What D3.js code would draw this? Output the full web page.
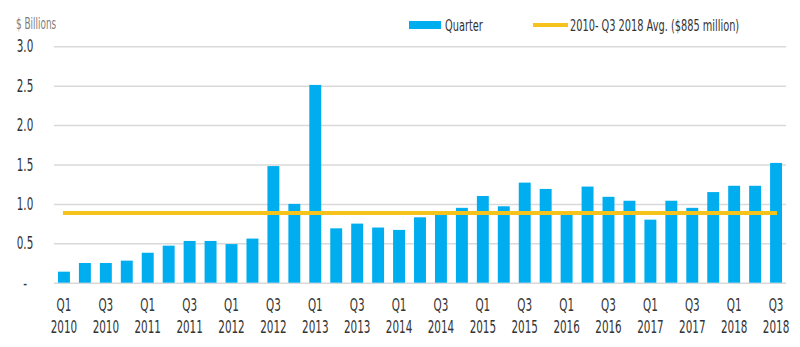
<!DOCTYPE html>
<html>
<head>
<meta charset="utf-8">
<script src="https://cdn.jsdelivr.net/npm/d3@7"></script>
<style>
  body { margin: 0; background: #fff; }
  svg text { font-family: "DejaVu Sans Condensed", "DejaVu Sans", sans-serif; font-stretch: condensed; }
</style>
</head>
<body>
<svg id="chart" width="800" height="347"></svg>
<script>
const w = 800;
const h = 347;

// quarterly totals, $ billions
const quarters = ["Q1","Q2","Q3","Q4"];
const years = [2010, 2011, 2012, 2013, 2014, 2015, 2016, 2017, 2018];
const values = [
  0.14, 0.25, 0.25, 0.28,
  0.38, 0.47, 0.53, 0.53,
  0.49, 0.56, 1.48, 1.00,
  2.51, 0.69, 0.75, 0.70,
  0.67, 0.83, 0.91, 0.95,
  1.10, 0.97, 1.27, 1.19,
  0.87, 1.22, 1.09, 1.04,
  0.80, 1.04, 0.95, 1.15,
  1.23, 1.23, 1.52
];
const average = 0.885;
const yTicks = [0, 0.5, 1.0, 1.5, 2.0, 2.5, 3.0];

const labels = values.map((v, i) => quarters[i % 4] + " " + years[Math.floor(i / 4)]);

const blue = "#00aeef";
const gold = "#f5c31c";
const grid = "#d9d9d9";
const squeeze = 0.66; // narrow lettering

const svg = d3.select("#chart");

const plotLeft = 54, plotRight = 786, plotTop = 46.3, plotBottom = 282.7;

// draws a horizontally squeezed label anchored at (tx, ty)
function narrowText(parent, tx, ty, size, color, str, anchor) {
    return parent.append("text")
        .attr("transform", `translate(${tx},${ty}) scale(${squeeze},1)`)
        .attr("text-anchor", anchor || "start")
        .attr("fill", color)
        .style("font-size", size + "px")
        .text(str);
}

const x = d3.scaleBand()
    .domain(labels)
    .range([plotLeft, plotRight])
    .paddingInner(0.43)
    .paddingOuter(0.19);

const y = d3.scaleLinear()
    .domain([0, 3])
    .range([plotBottom, plotTop]);

// gridlines
svg.append("g")
    .attr("transform", "translate(" + plotLeft + ",0)")
    .call(d3.axisLeft(y).tickValues(yTicks).tickSize(-(plotRight - plotLeft)).tickFormat(""))
    .call(g => g.select(".domain").remove())
    .call(g => g.selectAll("line").attr("stroke", grid).attr("stroke-width", 1.5));

// y labels
svg.append("g")
    .attr("transform", "translate(" + plotLeft + ",0)")
    .call(d3.axisLeft(y).tickValues(yTicks).tickSize(0)
        .tickFormat(d => d === 0 ? "-" : d3.format(".1f")(d)))
    .call(g => g.select(".domain").remove())
    .call(g => g.selectAll("text")
        .attr("x", 0)
        .attr("transform", `translate(${25 - plotLeft},0) scale(${squeeze},1)`)
        .attr("text-anchor", "middle")
        .attr("fill", "#333")
        .style("font-size", "17.5px"));

narrowText(svg, 16, 29, 15, "#808080", "$ Billions");

// bars
svg.append("g")
    .selectAll("rect")
    .data(values)
    .enter()
    .append("rect")
    .attr("x", (d, i) => x(labels[i]))
    .attr("y", d => y(d))
    .attr("width", x.bandwidth())
    .attr("height", d => y(0) - y(d))
    .attr("fill", blue);

// average line
svg.append("line")
    .attr("x1", x(labels[0]) + x.bandwidth() / 2 - 1)
    .attr("x2", x(labels[labels.length - 1]) + x.bandwidth() / 2 + 1)
    .attr("y1", y(average))
    .attr("y2", y(average))
    .attr("stroke", gold)
    .attr("stroke-width", 4);

// x labels, every other quarter
const xAxis = svg.append("g")
    .attr("transform", "translate(0," + plotBottom + ")")
    .call(d3.axisBottom(x).tickValues(labels.filter((d, i) => i % 2 === 0)).tickSize(0).tickFormat(""))
    .call(g => g.select(".domain").remove());

xAxis.selectAll(".tick text").remove();
xAxis.selectAll(".tick").each(function(d) {
    const parts = d.split(" ");
    const t = d3.select(this).append("text")
        .attr("transform", `scale(${squeeze},1)`)
        .attr("text-anchor", "middle")
        .attr("fill", "#333")
        .style("font-size", "17.5px");
    t.append("tspan").attr("x", 0).attr("y", 28.5).text(parts[0]);
    t.append("tspan").attr("x", 0).attr("y", 50.5).text(parts[1]);
});

// legend
const legend = svg.append("g");
legend.append("rect")
    .attr("x", 409).attr("y", 21)
    .attr("width", 32).attr("height", 8)
    .attr("fill", blue);
narrowText(legend, 445, 30.5, 16.5, "#333", "Quarter");
legend.append("line")
    .attr("x1", 533).attr("x2", 568)
    .attr("y1", 25).attr("y2", 25)
    .attr("stroke", gold)
    .attr("stroke-width", 4);
narrowText(legend, 570, 30.5, 16.5, "#333", "2010- Q3 2018 Avg. ($885 million)");
</script>
</body>
</html>
